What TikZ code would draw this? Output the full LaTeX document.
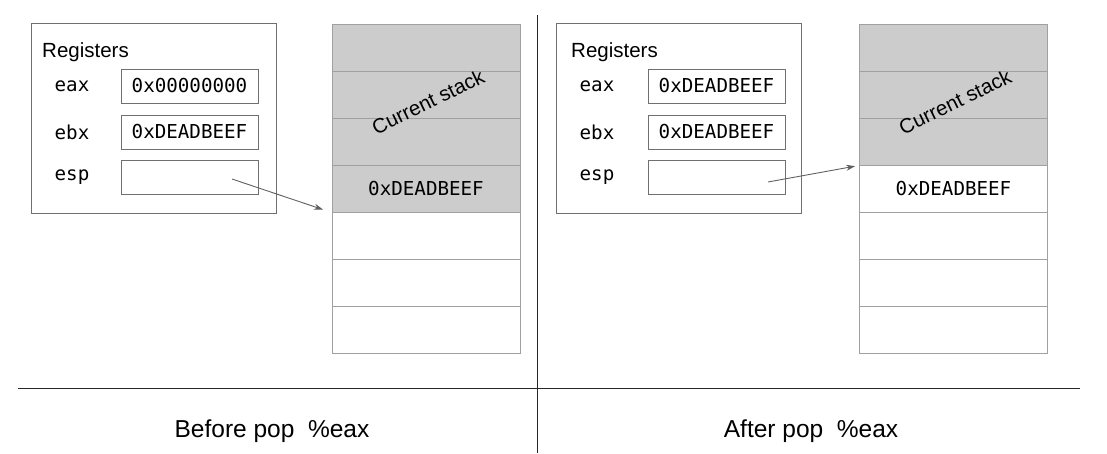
\documentclass[tikz,border=0pt]{standalone}
\usepackage{fontspec}
\setmainfont{Liberation Sans}
\setmonofont{DejaVu Sans Mono}
\usetikzlibrary{arrows.meta}
\definecolor{cellgrey}{HTML}{CCCCCC}
\definecolor{boxline}{HTML}{707070}
\definecolor{cellline}{HTML}{A0A0A0}
\definecolor{arrowline}{HTML}{606060}
\begin{document}
\begin{tikzpicture}[x=1pt,y=-1pt,
  regbox/.style={draw=boxline, line width=0.9pt, minimum width=245pt, minimum height=190pt, inner sep=0pt},
  valbox/.style={draw=boxline, line width=0.9pt, minimum width=137pt, minimum height=34pt, inner sep=0pt,
                 font=\ttfamily\fontsize{19.2}{21}\selectfont},
  reglabel/.style={font=\ttfamily\fontsize{19.2}{21}\selectfont, inner sep=0pt},
  title/.style={font=\fontsize{20.5}{23}\selectfont, anchor=west, inner sep=0pt},
  cell/.style={draw=cellline, line width=0.9pt, minimum width=188pt, minimum height=47pt, inner sep=0pt,
               font=\ttfamily\fontsize{19.2}{21}\selectfont},
  used/.style={cell, fill=cellgrey},
  stacklabel/.style={font=\fontsize{20.5}{23}\selectfont, rotate=26, inner sep=0pt},
  pointer/.style={draw=arrowline, line width=0.9pt, -{Stealth[length=9pt,width=6pt]}},
  caption/.style={font=\fontsize{24.5}{28}\selectfont, inner sep=0pt},
  divider/.style={draw=black!85, line width=0.9pt}]
\useasboundingbox (0,0) rectangle (1107,453);

% ---- before pop ----
\node[regbox] (lregs) at (153.5,118) {};
\node[title] (ltitle) at (42,52) {Registers};
\node[reglabel] (leaxl) at (72,86) {eax};
\node[reglabel] (lebxl) at (72,132) {ebx};
\node[reglabel] (lespl) at (72,177) {esp};
\node[valbox] (leax) at (189.5,86) {0x00000000};
\node[valbox] (lebx) at (189.5,132) {0xDEADBEEF};
\node[valbox] (lesp) at (189.5,177) {};

\node[used] (l1) at (426,47.5) {};
\node[used] (l2) at (426,94.5) {};
\node[used] (l3) at (426,141.5) {};
\node[used] (l4) at (426,188.5) {0xDEADBEEF};
\node[cell] (l5) at (426,235.5) {};
\node[cell] (l6) at (426,282.5) {};
\node[cell] (l7) at (426,329.5) {};
\node[stacklabel] (lcur) at (428,102) {Current stack};

\coordinate (lfrom) at (232,179);
\draw[pointer, shorten >=9pt] (lfrom) -- (l4.south west);

% ---- after pop ----
\node[regbox] (rregs) at (679,118) {};
\node[title] (rtitle) at (571,52) {Registers};
\node[reglabel] (reaxl) at (597,86) {eax};
\node[reglabel] (rebxl) at (597,132) {ebx};
\node[reglabel] (respl) at (597,177) {esp};
\node[valbox] (reax) at (716.5,86) {0xDEADBEEF};
\node[valbox] (rebx) at (716.5,132) {0xDEADBEEF};
\node[valbox] (resp) at (716.5,177) {};

\node[used] (r1) at (953.5,47.5) {};
\node[used] (r2) at (953.5,94.5) {};
\node[used] (r3) at (953.5,141.5) {};
\node[cell] (r4) at (953.5,188.5) {0xDEADBEEF};
\node[cell] (r5) at (953.5,235.5) {};
\node[cell] (r6) at (953.5,282.5) {};
\node[cell] (r7) at (953.5,329.5) {};
\node[stacklabel] (rcur) at (955,102) {Current stack};

\coordinate (rfrom) at (768,182);
\draw[pointer, shorten >=4pt] (rfrom) -- (r3.south west);

% ---- frame and captions ----
\coordinate (vtop) at (537,15);
\coordinate (vbot) at (537,453);
\coordinate (hleft) at (18,388);
\coordinate (hright) at (1080,388);
\draw[divider] (vtop) -- (vbot);
\draw[divider] (hleft) -- (hright);
\node[caption] (lcap) at (272,431) {Before pop\ \ \%eax};
\node[caption] (rcap) at (811,431) {After pop\ \ \%eax};
\end{tikzpicture}
\end{document}
